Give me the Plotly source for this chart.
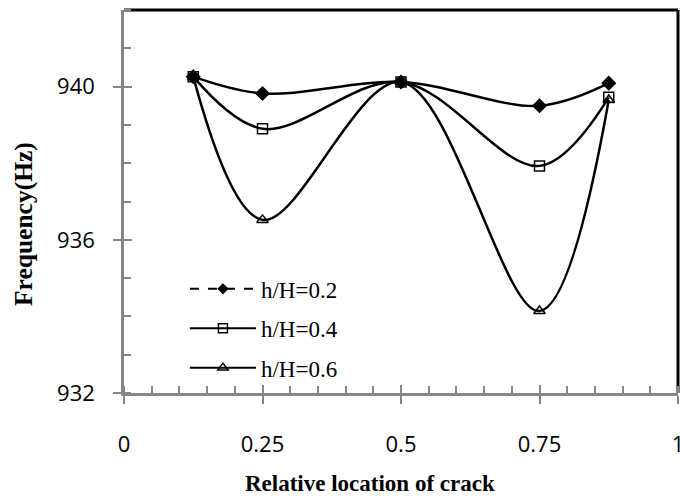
import plotly.graph_objects as go

x_loc = [0.125, 0.25, 0.5, 0.75, 0.875]
f_02 = [940.26, 939.82, 940.12, 939.50, 940.09]
f_04 = [940.26, 938.90, 940.12, 937.93, 939.72]
f_06 = [940.26, 936.52, 940.12, 934.14, 939.65]
series_names = ["h/H=0.2", "h/H=0.4", "h/H=0.6"]
x_ticks = [0, 0.25, 0.5, 0.75, 1]
x_ticklabels = ["0", "0.25", "0.5", "0.75", "1"]
y_ticks = [932, 936, 940]

symbols = ["diamond", "square-open", "triangle-up-open"]
dashes = ["dash", "solid", "solid"]
msizes = [10, 10, 10]
legend_msizes = [7, 9, 9]

fig = go.Figure()
for name, ys, sym, ms in zip(series_names, [f_02, f_04, f_06], symbols, msizes):
    fig.add_trace(go.Scatter(
        x=x_loc, y=ys, mode="lines+markers", showlegend=False,
        line=dict(color="black", width=2.5, shape="spline", smoothing=1.0),
        marker=dict(symbol=sym, size=ms, color="black", line=dict(color="black", width=1.5)),
    ))
# legend entries
for i, (name, sym, ds, ms) in enumerate(zip(series_names, symbols, dashes, legend_msizes)):
    fig.add_trace(go.Scatter(
        x=[None], y=[None], mode="lines+markers", name=name, legendgroup=f"g{i}",
        line=dict(color="black", width=2, dash=ds),
        marker=dict(symbol=sym, size=ms, color="black", line=dict(color="black", width=1.5)),
    ))

axis_gray = "#868686"
tick_font = dict(family="Open Sans", size=22, color="black")

fig.update_layout(
    width=680, height=501,
    margin=dict(l=124, r=2, t=10, b=108, autoexpand=False),
    plot_bgcolor="white", paper_bgcolor="white",
    showlegend=True,
    legend=dict(x=0.11, y=0.328, xanchor="left", yanchor="top", itemwidth=66,
                font=dict(family="Liberation Serif", size=23, color="black"),
                bgcolor="rgba(0,0,0,0)", tracegroupgap=6.5, traceorder="grouped"),
    xaxis=dict(range=[0, 1], tickvals=x_ticks, ticktext=x_ticklabels, automargin=False,
               showgrid=False, zeroline=False, showline=True, linecolor=axis_gray, linewidth=2.5,
               ticks="outside", ticklen=8, tickwidth=1.5, tickcolor=axis_gray,
               ticklabelstandoff=22, tickfont=tick_font, ticklabeloverflow="allow",
               minor=dict(dtick=0.05, ticks="inside", ticklen=7, tickwidth=1.5, tickcolor=axis_gray, showgrid=False)),
    yaxis=dict(range=[932, 942], tickvals=y_ticks, automargin=False,
               showgrid=False, zeroline=False, showline=True, linecolor=axis_gray, linewidth=2.5,
               ticks="outside", ticklen=8, tickwidth=1.5, tickcolor=axis_gray,
               ticklabelstandoff=14, tickfont=tick_font,
               minor=dict(dtick=1, ticks="inside", ticklen=7, tickwidth=1.5, tickcolor=axis_gray, showgrid=False)),
    xaxis2=dict(range=[0, 1], overlaying="x", tickvals=x_ticks, showticklabels=False, automargin=False,
                ticks="inside", ticklen=8, tickwidth=1.5, tickcolor=axis_gray,
                showgrid=False, zeroline=False, showline=False),
    yaxis2=dict(range=[932, 942], overlaying="y", tickvals=y_ticks, showticklabels=False, automargin=False,
                ticks="inside", ticklen=8, tickwidth=1.5, tickcolor=axis_gray,
                showgrid=False, zeroline=False, showline=False),
)
fig.add_trace(go.Scatter(x=[None], y=[None], xaxis="x2", yaxis="y2", showlegend=False))

# black top and right frame
fig.add_shape(type="line", xref="x domain", yref="y domain", x0=0, x1=1, y0=1, y1=1,
              line=dict(color="black", width=3), layer="below")
fig.add_shape(type="line", xref="x domain", yref="y domain", x0=1, x1=1, y0=0, y1=1,
              line=dict(color="black", width=3), layer="below")

fig.add_annotation(text="<b>Relative location of crack</b>", xref="paper", yref="paper",
                   x=(370 - 124) / 554, y=-(483 - 393) / 383, xanchor="center", yanchor="middle",
                   showarrow=False, font=dict(family="Liberation Serif", size=23, color="black"))
fig.add_annotation(text="<b>Frequency(Hz)</b>", xref="paper", yref="paper",
                   x=-(124 - 23) / 554, y=1 - (224 - 10) / 383, xanchor="center", yanchor="middle",
                   textangle=-90, showarrow=False,
                   font=dict(family="Liberation Serif", size=25.5, color="black"))

fig.write_html("out.html")
